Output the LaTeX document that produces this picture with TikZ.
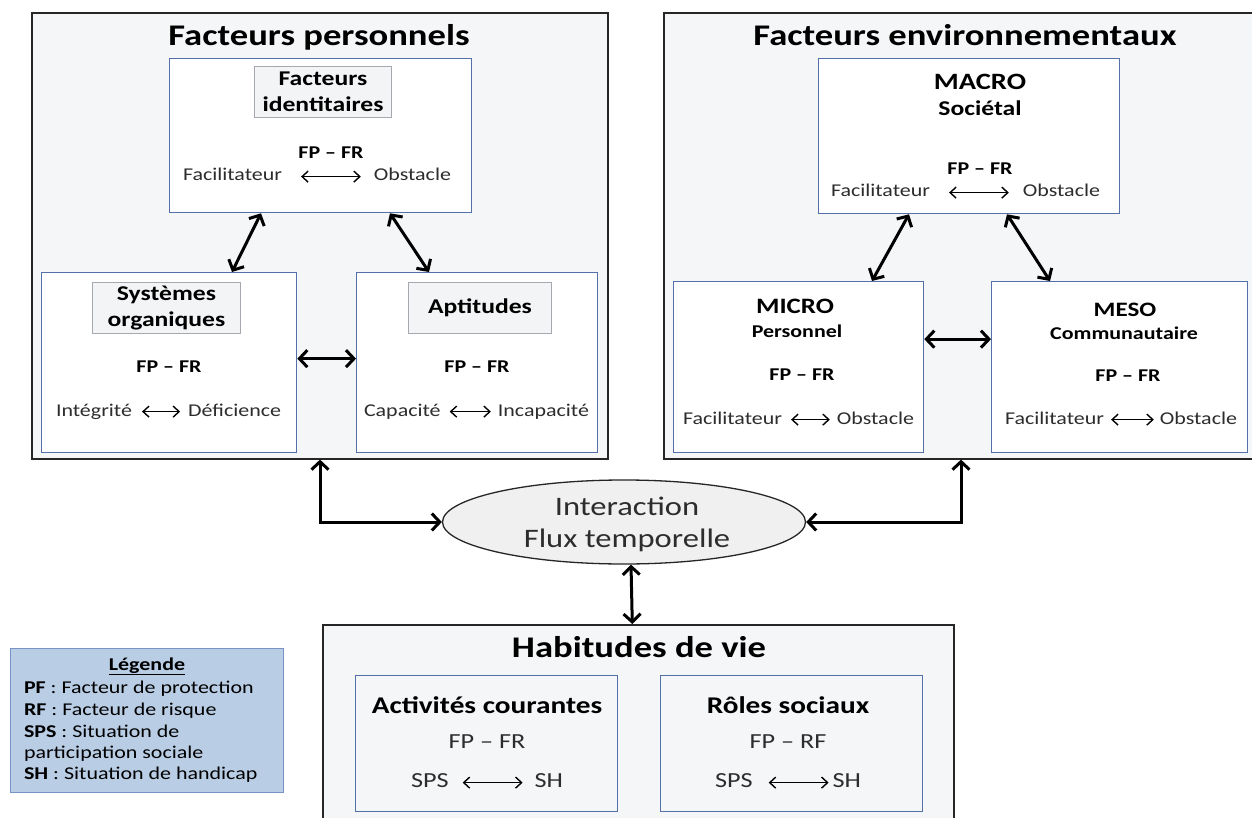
\documentclass[tikz,border=0pt]{standalone}
\usepackage{fontspec}
\setmainfont{Carlito}[FakeStretch=1.22]
\usetikzlibrary{arrows.meta,shapes.geometric}
\definecolor{outerfill}{RGB}{244,246,247}
\definecolor{innerblue}{RGB}{84,112,170}
\definecolor{labelgray}{RGB}{165,168,175}
\definecolor{labelfill}{RGB}{243,244,245}
\definecolor{legfill}{RGB}{185,205,229}
\definecolor{legborder}{RGB}{120,148,196}
\definecolor{ellfill}{RGB}{240,240,240}
\definecolor{regtext}{RGB}{45,45,45}
\tikzset{
  outerbox/.style={draw=black!85, line width=1.6pt, fill=outerfill, anchor=north west, inner sep=0pt},
  innerbox/.style={draw=innerblue, line width=1.3pt, fill=white, anchor=north west, inner sep=0pt},
  habbox/.style={draw=innerblue, line width=1.3pt, fill=outerfill, anchor=north west, inner sep=0pt},
  labelbox/.style={draw=labelgray, line width=1pt, fill=labelfill, anchor=north west, inner sep=0pt, align=center, font=\fontsize{21}{26}\selectfont\bfseries},
  txt/.style={inner sep=0pt, outer sep=0pt, anchor=base},
  bigarrow/.style={line width=3pt, {Straight Barb[length=8pt,width=17pt]}-{Straight Barb[length=8pt,width=17pt]}},
  smallarrow/.style={line width=1.4pt, {Straight Barb[length=6pt,width=11pt]}-{Straight Barb[length=6pt,width=11pt]}},
  titlefont/.style={font=\fontsize{30}{36}\selectfont\bfseries},
  regfont/.style={font=\fontsize{18}{21.6}\selectfont, text=regtext},
  boldfont/.style={font=\fontsize{18}{21.6}\selectfont\bfseries},
}
\begin{document}
\begin{tikzpicture}[x=1pt,y=-1pt]
\useasboundingbox (0,0) rectangle (1252,818);
\fill[white] (0,0) rectangle (1252,818);

% ---------- Facteurs personnels ----------
\node[outerbox, minimum width=576pt, minimum height=446pt] (lo) at (31,12) {};
\node[txt, titlefont] (t1) at (319,46) {Facteurs personnels};
\node[innerbox, minimum width=302pt, minimum height=154pt] (fi) at (169,58) {};
\node[labelbox, minimum width=137pt, minimum height=51pt] (fil) at (254,66) {Facteurs\\identitaires};
\node[txt, boldfont] (fpfr1) at (331,159) {FP – FR};
\node[txt, regfont, anchor=base west] (fac1) at (183,181) {Facilitateur};
\node[txt, regfont, anchor=base east] (obs1) at (451,181) {Obstacle};
\draw[smallarrow] ([xshift=19pt,yshift=2pt]fac1.mid east) -- ([xshift=-13pt,yshift=2pt]obs1.mid west);

\node[innerbox, minimum width=255pt, minimum height=180pt] (so) at (41,272) {};
\node[labelbox, minimum width=148pt, minimum height=51pt] (sol) at (92,282) {Systèmes\\organiques};
\node[txt, boldfont] (fpfr2) at (169,372) {FP – FR};
\node[txt, regfont, anchor=base west] (int) at (56,416) {Intégrité};
\node[txt, regfont, anchor=base east] (def) at (281,416) {Déficience};
\draw[smallarrow] ([xshift=10pt,yshift=2pt]int.mid east) -- ([xshift=-8pt,yshift=2pt]def.mid west);

\node[innerbox, minimum width=241pt, minimum height=180pt] (ap) at (356,272) {};
\node[labelbox, minimum width=143pt, minimum height=51pt] (apl) at (408,282) {Aptitudes};
\node[txt, boldfont] (fpfr3) at (477,372) {FP – FR};
\node[txt, regfont, anchor=base west] (cap) at (364,416) {Capacité};
\node[txt, regfont, anchor=base east] (inc) at (589,416) {Incapacité};
\draw[smallarrow] ([xshift=9pt,yshift=2pt]cap.mid east) -- ([xshift=-7pt,yshift=2pt]inc.mid west);

\draw[bigarrow] ([xshift=92pt]fi.south west) -- ([xshift=191pt]so.north west);
\draw[bigarrow] ([xshift=221pt]fi.south west) -- ([xshift=73pt]ap.north west);
\draw[bigarrow] ([yshift=4pt]so.east) -- ([yshift=4pt]ap.west);

% ---------- Facteurs environnementaux ----------
\node[outerbox, minimum width=600pt, minimum height=446pt] (ro) at (663,12) {};
\node[txt, titlefont] (t2) at (965,46) {Facteurs environnementaux};
\node[innerbox, minimum width=301pt, minimum height=155pt] (ma) at (818,58) {};
\node[txt, font=\fontsize{23.4}{28}\selectfont\bfseries] (macro) at (980,90) {MACRO};
\node[txt, font=\fontsize{21}{25}\selectfont\bfseries] (soc) at (980,116) {Sociétal};
\node[txt, boldfont] (fpfr4) at (980,175) {FP – FR};
\node[txt, regfont, anchor=base west] (fac4) at (831,197) {Facilitateur};
\node[txt, regfont, anchor=base east] (obs4) at (1100,197) {Obstacle};
\draw[smallarrow] ([xshift=19pt,yshift=2pt]fac4.mid east) -- ([xshift=-14pt,yshift=2pt]obs4.mid west);

\node[innerbox, minimum width=250pt, minimum height=171pt] (mi) at (673,281) {};
\node[txt, font=\fontsize{22}{26}\selectfont\bfseries] (micro) at (795,313) {MICRO};
\node[txt, boldfont] (pers) at (797,337) {Personnel};
\node[txt, boldfont] (fpfr5) at (802,380) {FP – FR};
\node[txt, regfont, anchor=base west] (fac5) at (683,424) {Facilitateur};
\node[txt, regfont, anchor=base east] (obs5) at (914,424) {Obstacle};
\draw[smallarrow] ([xshift=9pt,yshift=2pt]fac5.mid east) -- ([xshift=-7pt,yshift=2pt]obs5.mid west);

\node[innerbox, minimum width=256pt, minimum height=171pt] (me) at (991,281) {};
\node[txt, font=\fontsize{20.5}{25}\selectfont\bfseries] (meso) at (1125,316) {MESO};
\node[txt, boldfont] (comm) at (1124,339) {Communautaire};
\node[txt, boldfont] (fpfr6) at (1128,381) {FP – FR};
\node[txt, regfont, anchor=base west] (fac6) at (1005,424) {Facilitateur};
\node[txt, regfont, anchor=base east] (obs6) at (1237,424) {Obstacle};
\draw[smallarrow] ([xshift=7pt,yshift=2pt]fac6.mid east) -- ([xshift=-6pt,yshift=2pt]obs6.mid west);

\draw[bigarrow] ([xshift=91pt]ma.south west) -- ([xshift=199pt]mi.north west);
\draw[bigarrow] ([xshift=189pt]ma.south west) -- ([xshift=59pt]me.north west);
\draw[bigarrow] ([yshift=28pt]mi.east) -- ([yshift=28pt]me.west);

% ---------- Interaction ----------
\node[ellipse, draw=black!85, line width=1.3pt, fill=ellfill, minimum width=363pt, minimum height=84pt, inner sep=0pt] (ell) at (624,522) {};
\node[txt, font=\fontsize{26.7}{32}\selectfont, text=regtext] (inter) at (627,515) {Interaction};
\node[txt, font=\fontsize{26.7}{32}\selectfont, text=regtext] (flux) at (627,547) {Flux temporelle};

\draw[bigarrow] ([xshift=289pt]lo.south west) |- (ell.west);
\draw[bigarrow] ([xshift=298pt]ro.south west) |- (ell.east);

% ---------- Habitudes de vie ----------
\node[outerbox, minimum width=631pt, minimum height=210pt] (hab) at (322,624) {};
\draw[bigarrow] ([xshift=7pt]ell.south) -- ([xshift=-6pt]hab.north);
\node[txt, titlefont] (t3) at (639,657) {Habitudes de vie};

\node[habbox, minimum width=262pt, minimum height=136pt] (ac) at (355,675) {};
\node[txt, font=\fontsize{24}{29}\selectfont\bfseries] (act) at (487,713) {Activités courantes};
\node[txt, font=\fontsize{21.5}{26}\selectfont, text=regtext] (fpfr7) at (487,748) {FP – FR};
\node[txt, font=\fontsize{21.5}{26}\selectfont, text=regtext, anchor=base west] (sps1) at (411,787) {SPS};
\node[txt, font=\fontsize{21.5}{26}\selectfont, text=regtext, anchor=base east] (sh1) at (563,787) {SH};
\draw[smallarrow] ([xshift=14pt,yshift=2pt]sps1.mid east) -- ([xshift=-12pt,yshift=2pt]sh1.mid west);

\node[habbox, minimum width=262pt, minimum height=136pt] (rs) at (660,675) {};
\node[txt, font=\fontsize{24}{29}\selectfont\bfseries] (rol) at (788,713) {Rôles sociaux};
\node[txt, font=\fontsize{21.5}{26}\selectfont, text=regtext] (fprf) at (788,748) {FP – RF};
\node[txt, font=\fontsize{21.5}{26}\selectfont, text=regtext, anchor=base west] (sps2) at (715,787) {SPS};
\node[txt, font=\fontsize{21.5}{26}\selectfont, text=regtext, anchor=base east] (sh2) at (861,787) {SH};
\draw[smallarrow] ([xshift=16pt,yshift=2pt]sps2.mid east) -- ([xshift=-4pt,yshift=2pt]sh2.mid west);

% ---------- Légende ----------
\node[draw=legborder, line width=1.3pt, fill=legfill, anchor=north west, inner sep=0pt, minimum width=273pt, minimum height=144pt] (leg) at (10,648) {};
\node[txt, boldfont] (legt) at (147,670) {\underline{Légende}};
\node[txt, regfont, text=black, anchor=base west] (l1) at (24,693) {\textbf{PF} : Facteur de protection};
\node[txt, regfont, text=black, anchor=base west] (l2) at (24,715) {\textbf{RF} : Facteur de risque};
\node[txt, regfont, text=black, anchor=base west] (l3) at (24,737) {\textbf{SPS} : Situation de};
\node[txt, regfont, text=black, anchor=base west] (l4) at (24,758) {participation sociale};
\node[txt, regfont, text=black, anchor=base west] (l5) at (24,779) {\textbf{SH} : Situation de handicap};
\end{tikzpicture}
\end{document}
